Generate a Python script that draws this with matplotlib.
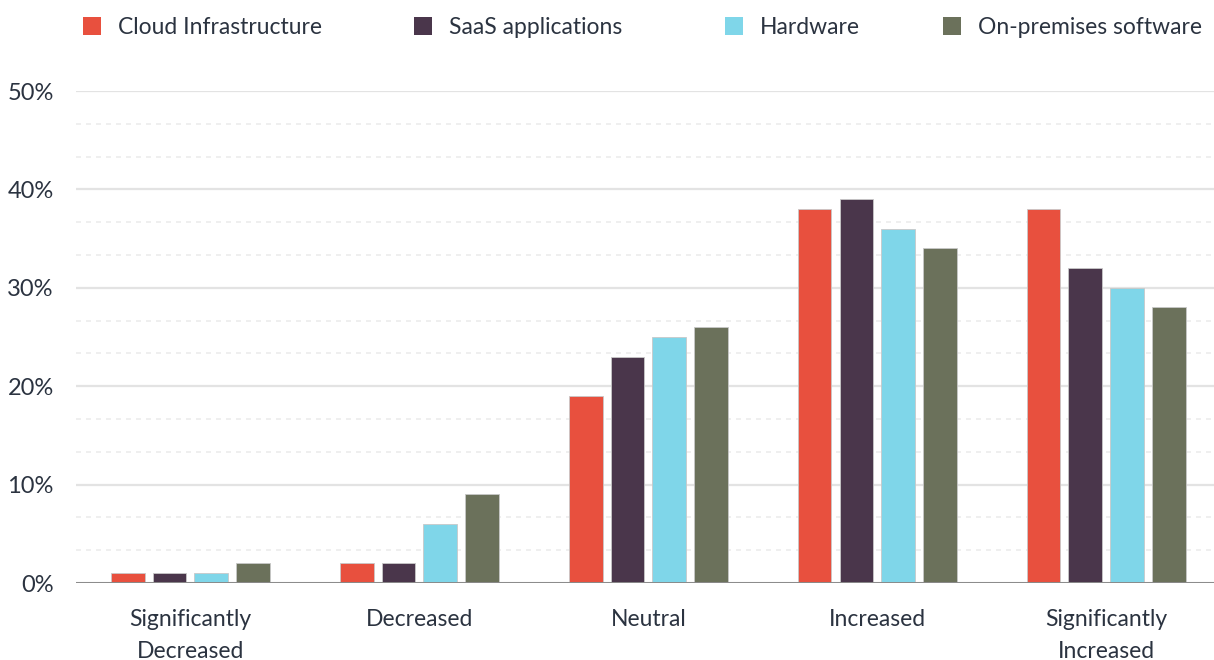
import matplotlib
matplotlib.use("Agg")
import matplotlib.pyplot as plt
import numpy as np
from matplotlib.patches import Rectangle
from matplotlib.ticker import MultipleLocator, FuncFormatter

plt.rcParams['font.family'] = ['Lato', 'DejaVu Sans']

# survey answers, percent of respondents
categories = ["Significantly\nDecreased", "Decreased", "Neutral", "Increased", "Significantly\nIncreased"]
series_names = ["Cloud Infrastructure", "SaaS applications", "Hardware", "On-premises software"]
cloud = [1, 2, 19, 38, 38]
saas = [1, 2, 23, 39, 32]
hardware = [1, 6, 25, 36, 30]
onprem = [2, 9, 26, 34, 28]

colors = ["#E8503E", "#4A364B", "#7FD6E9", "#6B715B"]
text_color = "#2B3340"

W, H = 1214, 660
fig = plt.figure(figsize=(W / 100, H / 100), dpi=100)
ax = fig.add_axes([76 / W, 77 / H, (W - 76) / W, 492 / H])

x = np.arange(len(categories))
pitch = 0.183
width = 0.148
for i, vals in enumerate([cloud, saas, hardware, onprem]):
    ax.bar(x + (i - 1.5) * pitch, vals, width, color=colors[i],
           edgecolor="#c8c8c8", linewidth=0.6, zorder=3)

ax.set_xlim(-0.5, 4.47)
ax.set_ylim(0, 50)
ax.yaxis.set_major_locator(MultipleLocator(10))
ax.yaxis.set_minor_locator(MultipleLocator(10 / 3))
ax.yaxis.set_major_formatter(FuncFormatter(lambda v, p: "%d%%" % v))
ax.grid(axis="y", which="major", color="#e3e3e3", linewidth=1.6, zorder=0)
ax.grid(axis="y", which="minor", color="#ececec", linewidth=1.2,
        linestyle=(0, (3, 3)), zorder=0)
ax.axhline(0, color="#8a8a8a", linewidth=1.4, zorder=4)

for s in ax.spines.values():
    s.set_visible(False)
ax.tick_params(axis="both", which="both", length=0, colors=text_color)
ax.tick_params(axis="y", pad=16, labelsize=17)
ax.tick_params(axis="x", pad=19, labelsize=16.5)
ax.set_xticks(x)
ax.set_xticklabels(categories, linespacing=1.6)

# legend row along the top, placed by pixel
legend_x = [83, 414, 725, 943]
for xp, c, name in zip(legend_x, colors, series_names):
    fig.patches.append(Rectangle((xp / W, (H - 35) / H), 18 / W, 18 / H,
                                 transform=fig.transFigure, facecolor=c,
                                 edgecolor="none"))
    fig.text((xp + 35) / W, (H - 28) / H, name, color=text_color,
             fontsize=16.5, va="center", ha="left")

fig.savefig("out.png", dpi=100, facecolor="white")
